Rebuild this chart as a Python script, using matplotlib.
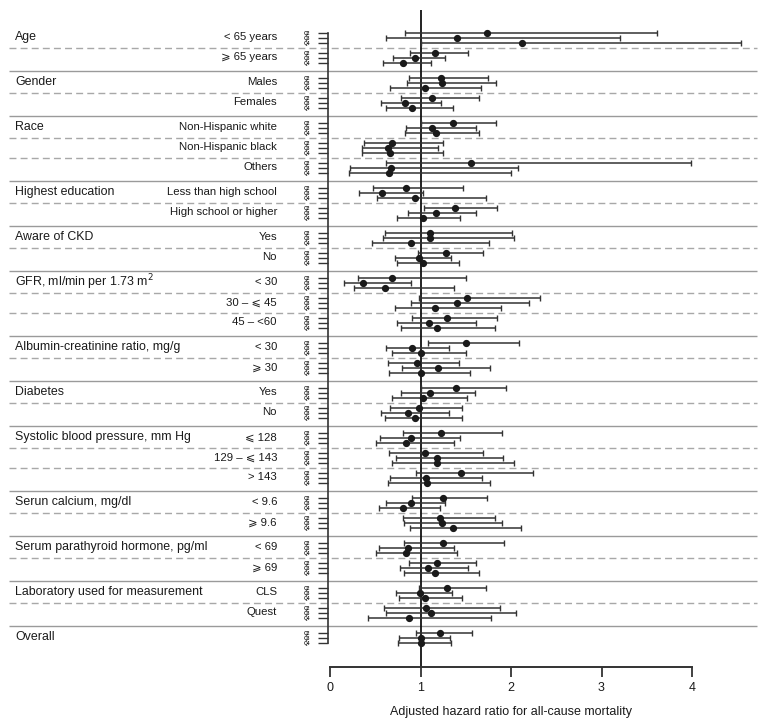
import numpy as np
import matplotlib
matplotlib.use("Agg")
import matplotlib.pyplot as plt

plt.rcParams['font.family'] = ['Liberation Sans', 'DejaVu Sans']

categories = ["Age", "Gender", "Race", "Highest education", "Aware of CKD",
              "GFR, ml/min per 1.73 m$^2$", "Albumin-creatinine ratio, mg/g",
              "Diabetes", "Systolic blood pressure, mm Hg", "Serun calcium, mg/dl",
              "Serum parathyroid hormone, pg/ml", "Laboratory used for measurement",
              "Overall"]

subgroups = [["< 65 years", "⩾ 65 years"],
             ["Males", "Females"],
             ["Non-Hispanic white", "Non-Hispanic black", "Others"],
             ["Less than high school", "High school or higher"],
             ["Yes", "No"],
             ["< 30", "30 – ⩽ 45", "45 – <60"],
             ["< 30", "⩾ 30"],
             ["Yes", "No"],
             ["⩽ 128", "129 – ⩽ 143", "> 143"],
             ["< 9.6", "⩾ 9.6"],
             ["< 69", "⩾ 69"],
             ["CLS", "Quest"],
             [""]]

quartiles = ["Q2", "Q3", "Q4"]

# hazard ratios (per subgroup, 28 subgroups) for Q2, Q3, Q4
hr_q2 = [1.73, 1.16, 1.23, 1.13, 1.36, 0.69, 1.56, 0.84, 1.38, 1.11, 1.28, 0.69, 1.51, 1.29,
         1.50, 0.96, 1.39, 0.98, 1.23, 1.05, 1.45, 1.25, 1.22, 1.25, 1.18, 1.29, 1.06, 1.22]
lo_q2 = [0.83, 0.88, 0.87, 0.78, 1.01, 0.38, 0.62, 0.48, 1.04, 0.61, 0.97, 0.31, 0.98, 0.91,
         1.08, 0.64, 1.01, 0.66, 0.81, 0.65, 0.95, 0.91, 0.81, 0.82, 0.87, 0.98, 0.60, 0.95]
hi_q2 = [3.61, 1.53, 1.75, 1.65, 1.83, 1.25, 3.99, 1.47, 1.85, 2.01, 1.69, 1.50, 2.32, 1.85,
         2.09, 1.43, 1.95, 1.46, 1.90, 1.69, 2.24, 1.74, 1.82, 1.92, 1.61, 1.72, 1.88, 1.57]

hr_q3 = [1.40, 0.94, 1.24, 0.83, 1.13, 0.64, 0.67, 0.58, 1.17, 1.10, 0.98, 0.37, 1.40, 1.09,
         0.91, 1.19, 1.11, 0.86, 0.89, 1.18, 1.06, 0.89, 1.24, 0.86, 1.08, 0.99, 1.12, 1.00]
lo_q3 = [0.62, 0.70, 0.85, 0.56, 0.84, 0.35, 0.22, 0.32, 0.86, 0.59, 0.72, 0.15, 0.89, 0.74,
         0.62, 0.80, 0.78, 0.56, 0.55, 0.73, 0.66, 0.62, 0.82, 0.54, 0.77, 0.73, 0.62, 0.76]
hi_q3 = [3.20, 1.27, 1.83, 1.23, 1.61, 1.19, 2.08, 1.03, 1.61, 2.03, 1.34, 0.90, 2.20, 1.61,
         1.32, 1.77, 1.60, 1.32, 1.44, 1.91, 1.68, 1.27, 1.90, 1.37, 1.52, 1.35, 2.05, 1.33]

hr_q4 = [2.12, 0.81, 1.05, 0.91, 1.17, 0.66, 0.65, 0.94, 1.03, 0.90, 1.03, 0.61, 1.16, 1.18,
         1.01, 1.00, 1.03, 0.94, 0.84, 1.18, 1.07, 0.81, 1.36, 0.84, 1.16, 1.05, 0.87, 1.00]
lo_q4 = [1.00, 0.59, 0.66, 0.62, 0.83, 0.35, 0.21, 0.52, 0.74, 0.46, 0.74, 0.27, 0.72, 0.78,
         0.69, 0.65, 0.69, 0.61, 0.51, 0.69, 0.64, 0.54, 0.88, 0.51, 0.82, 0.76, 0.42, 0.75]
hi_q4 = [4.54, 1.12, 1.67, 1.36, 1.65, 1.25, 2.00, 1.72, 1.44, 1.76, 1.43, 1.37, 1.89, 1.82,
         1.50, 1.55, 1.51, 1.46, 1.37, 2.03, 1.77, 1.21, 2.11, 1.40, 1.65, 1.46, 1.78, 1.34]

xticks = [0, 1, 2, 3, 4]
xlabel = "Adjusted hazard ratio for all-cause mortality"

# ---------------- layout ----------------
W, H = 766, 727
PX_PER_UNIT = 90.5
X0_PX = 330.0
ROW_PX = 5.0
TOP_PX = 33.3


def px_to_x(px):
    return (px - X0_PX) / PX_PER_UNIT


def px_to_y(py):
    return (py - TOP_PX) / ROW_PX


fig = plt.figure(figsize=(W / 100, H / 100), dpi=100)
ax = fig.add_axes([0, 0, 1, 1])
ax.set_xlim(px_to_x(0), px_to_x(W))
ax.set_ylim(px_to_y(H), px_to_y(0))

# compute row positions
rows_y, rows_hr, rows_lo, rows_hi, rows_lab = [], [], [], [], []
cat_y, sub_y, solid_y, dashed_y = [], [], [], []
hr_all = [hr_q2, hr_q3, hr_q4]
lo_all = [lo_q2, lo_q3, lo_q4]
hi_all = [hi_q2, hi_q3, hi_q4]
y = 0.0
k = 0
for ci, (cat, subs) in enumerate(zip(categories, subgroups)):
    for si, sub in enumerate(subs):
        ys = []
        for qi, q in enumerate(quartiles):
            rows_y.append(y)
            rows_hr.append(hr_all[qi][k])
            rows_lo.append(lo_all[qi][k])
            rows_hi.append(hi_all[qi][k])
            rows_lab.append(q)
            ys.append(y)
            y += 1
        y -= 1
        if si == 0:
            cat_y.append(ys[1] - 0.2)
        sub_y.append((sub, ys[1] - 0.2))
        k += 1
        if si < len(subs) - 1:
            dashed_y.append(y + 1)
            y += 2
    if ci < len(categories) - 1:
        solid_y.append(y + 1.5)
        y += 3

rows_y = np.array(rows_y)
rows_hr = np.array(rows_hr)
rows_lo = np.array(rows_lo)
rows_hi = np.array(rows_hi)

# separators
x_sep0, x_sep1 = px_to_x(9), px_to_x(757)
ax.hlines(solid_y, x_sep0, x_sep1, colors='#9a9a9a', linewidth=1.0, zorder=1)
ax.hlines(dashed_y, x_sep0, x_sep1, colors='#a8a8a8', linewidth=1.0,
          linestyles=(0, (5, 3)), zorder=1)

# reference line at HR = 1
axis_y = px_to_y(667)
ax.vlines(1, px_to_y(10), axis_y, colors='#111111', linewidth=1.3, zorder=2)

# error bars
ax.errorbar(rows_hr, rows_y, xerr=[rows_hr - rows_lo, rows_hi - rows_hr],
            fmt='o', color='#1a1a1a', ecolor='#333333', elinewidth=1.1,
            capsize=2.0, capthick=1.0, markersize=4.2, zorder=3)

# text labels
for cat, cy in zip(categories, cat_y):
    ax.text(px_to_x(15), cy, cat, ha='left', va='center', fontsize=8.9, color='#1a1a1a')
for sub, sy in sub_y:
    ax.text(px_to_x(277), sy, sub, ha='right', va='center', fontsize=8.2, color='#1a1a1a')

# axes styling
for s in ['top', 'right']:
    ax.spines[s].set_visible(False)
ax.spines['left'].set_position(('data', px_to_x(327.5)))
ax.spines['left'].set_bounds(rows_y[0], rows_y[-1])
ax.spines['left'].set_color('#333333')
ax.spines['left'].set_linewidth(1.2)
ax.set_yticks(rows_y)
ax.set_yticklabels(rows_lab, fontsize=3.4, fontweight='bold', color='#222222')
ax.tick_params(axis='y', direction='out', length=7.2, width=1.0, pad=5.5, colors='#333333',
               labelcolor='#222222')

ax.spines['bottom'].set_position(('data', axis_y))
ax.spines['bottom'].set_bounds(0, 4)
ax.spines['bottom'].set_color('#333333')
ax.spines['bottom'].set_linewidth(1.4)
ax.set_xticks(xticks)
ax.set_xticklabels([str(t) for t in xticks], fontsize=9, color='#1a1a1a')
ax.tick_params(axis='x', direction='out', length=7.2, width=1.3, pad=3.5, colors='#333333',
               labelcolor='#1a1a1a')

ax.set_xlabel(xlabel, fontsize=9, color='#1a1a1a')
ax.xaxis.set_label_coords(2, px_to_y(712), transform=ax.transData)
ax.xaxis.label.set_va('center')

fig.savefig("out.png", dpi=100)
